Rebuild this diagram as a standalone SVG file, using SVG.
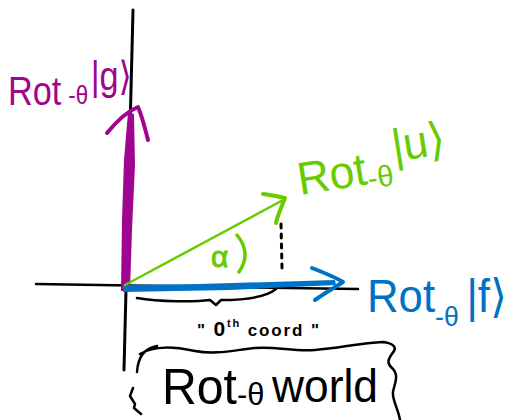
<svg xmlns="http://www.w3.org/2000/svg" width="513" height="420" viewBox="0 0 513 420">
<style>
.ink{fill:none;stroke-linecap:round;stroke-linejoin:round}
.k{stroke:#000}
.p{stroke:#a0058f}
.g{stroke:#66cc00}
.b{stroke:#0072c6}
.t{font-family:"Liberation Sans","DejaVu Sans",sans-serif}
.tp{fill:#a0058f}
.tg{fill:#66cc00}
.tb{fill:#0072c6}
.tk{fill:#000}
</style>
<rect width="513" height="420" fill="#fff"/>
<g id="axes">
<path class="ink k" stroke-width="3" d="M133,10 L124,370"/>
<path class="ink k" stroke-width="2.5" d="M36,284 L358,289"/>
</g>
<g id="connectors">
<g id="vec-g">
<path fill="#a0058f" d="M121,291 L122,220 L124,160 L128,112 L134,114 L135,165 L132,230 L130,291 Z"/>
<path class="ink p" stroke-width="4" d="M107,133 C116,122 128,111 138,107 C142,116 145,128 148,140"/>
</g>
<g id="vec-f">
<path fill="#0072c6" d="M123,285 L200,284 L335,280 L336,285 L230,290 L123,292 Z"/>
<path class="ink b" stroke-width="4" d="M312,268 C325,273 335,277 343,282 C332,289 322,295 315,300"/>
</g>
<g id="vec-u">
<path class="ink g" stroke-width="2.5" d="M125,285 L285,199"/>
<path class="ink g" stroke-width="4" d="M263,194 C272,195 280,197 285,198 C282,206 278,214 276,223"/>
</g>
<path id="drop" class="ink k" stroke-width="3" stroke-dasharray="4 6" d="M281,224 L282,268"/>
<path id="brace-0th" class="ink k" stroke-width="2.5" d="M137,298 C160,302 195,302 210,300 L216,305 L221,300 C245,300 265,298 276,289"/>
</g>
<g id="alpha">
<text class="t tg" x="211" y="267" font-size="30" stroke="#66cc00" stroke-width="1">α</text>
<path class="ink g" stroke-width="3.5" d="M237,235 Q252,253 239,272"/>
</g>
<g id="label-g">
<text class="t tp" x="8" y="105" font-size="40" textLength="124" lengthAdjust="spacingAndGlyphs">Rot<tspan font-size="26" dx="8" dy="-1">-θ</tspan><tspan font-size="40" dx="3" dy="-14">|g⟩</tspan></text>
</g>
<g id="label-u" transform="rotate(-9 300 195)">
<text class="t tg" x="300" y="195" font-size="46" textLength="152" lengthAdjust="spacingAndGlyphs">Rot<tspan font-size="30" dy="5">-θ</tspan><tspan font-size="46" dx="3" dy="-23">|u⟩</tspan></text>
</g>
<g id="label-f">
<text class="t tb" x="367" y="312" font-size="46" textLength="140" lengthAdjust="spacingAndGlyphs">Rot<tspan font-size="28" dy="14">-θ</tspan><tspan font-size="46" dx="8" dy="-14">|f⟩</tspan></text>
</g>
<g id="label-0th">
<text class="t tk" x="197" y="336" font-size="17" font-weight="bold" textLength="122">" <tspan font-size="21">0</tspan><tspan font-size="11" dy="-9">th</tspan><tspan dy="9"> coord "</tspan></text>
</g>
<g id="world">
<path class="ink k" stroke-width="2.5" d="M157,346 C145,348 138,356 137,372 M133,388 L130,396 L135,404 L134,408 L141,414 M140,354 C155,345 175,347 195,351 C215,355 235,350 255,348 C275,346 295,352 315,350 C340,348 360,343 383,342 C391,343 397,346 394,351 C390,357 385,362 392,368 C400,375 394,385 393,392 C392,400 398,408 400,420"/>
<text class="t tk" x="162" y="404" font-size="50" textLength="216" lengthAdjust="spacingAndGlyphs">Rot<tspan font-size="32" dy="1">-θ</tspan><tspan font-size="46" dx="8" dy="-3">world</tspan></text>
</g>
</svg>
